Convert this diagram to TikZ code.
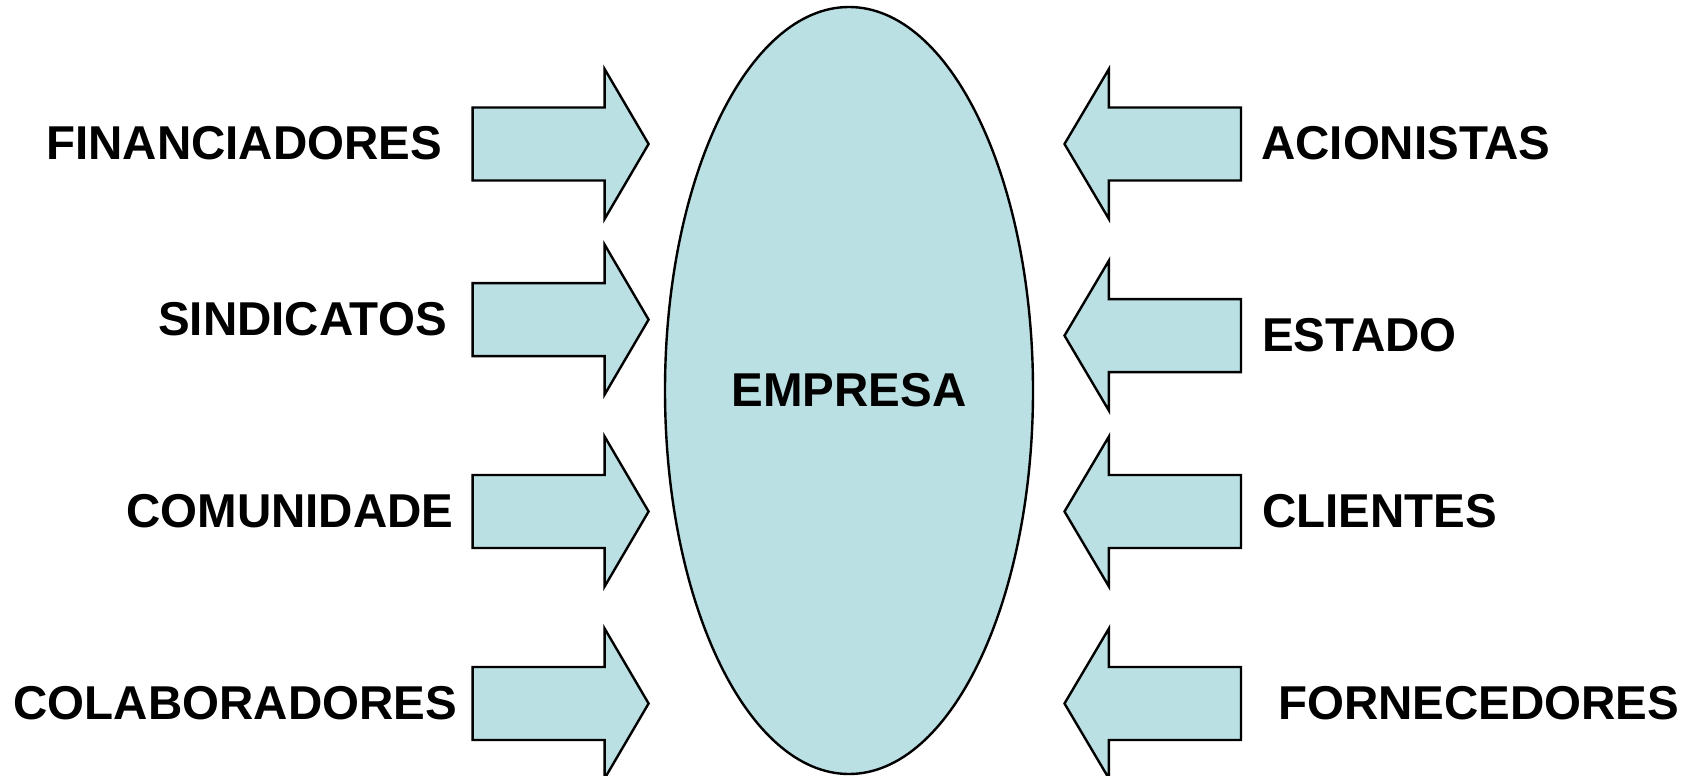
\documentclass[tikz,border=0pt]{standalone}
\usepackage{fontspec}
\setmainfont{Liberation Sans}
\usetikzlibrary{shapes.geometric}
\definecolor{fillblue}{HTML}{BAE0E3}
\tikzset{
  shapefill/.style={draw=black, line width=2.4pt, fill=fillblue, line join=miter},
  lbl/.style={inner sep=0pt, font=\fontsize{47.5}{55}\selectfont\bfseries},
  inarrowR/.pic={\draw[shapefill] (0,0) -- (-44,-75) -- (-44,-36.5) -- (-176,-36.5) -- (-176,36.5) -- (-44,36.5) -- (-44,75) -- cycle;},
  inarrowL/.pic={\draw[shapefill] (0,0) -- (44.4,-75) -- (44.4,-36.5) -- (176.5,-36.5) -- (176.5,36.5) -- (44.4,36.5) -- (44.4,75) -- cycle;}
}
\begin{document}
\begin{tikzpicture}[x=1pt,y=-1pt]
\useasboundingbox (0,0) rectangle (1698,776);
% central ellipse
\node[ellipse, shapefill, inner sep=0pt, minimum width=368pt, minimum height=767pt, lbl] (emp) at (849,390.5) {EMPRESA};
% left arrows
\pic (a1) at (648.6,144) {inarrowR};
\pic (a2) at (648.6,319.6) {inarrowR};
\pic (a3) at (648.6,511.5) {inarrowR};
\pic (a4) at (648.6,703.5) {inarrowR};
% right arrows
\pic (b1) at (1064.5,144) {inarrowL};
\pic (b2) at (1064.5,335.6) {inarrowL};
\pic (b3) at (1064.5,511.5) {inarrowL};
\pic (b4) at (1064.5,703.5) {inarrowL};
% left labels
\node[lbl, anchor=west] (fin) at (46,143.5) {FINANCIADORES};
\node[lbl, anchor=west] (sin) at (158,319.6) {SINDICATOS};
\node[lbl, anchor=west] (com) at (126,511.5) {COMUNIDADE};
\node[lbl, anchor=west] (col) at (13.5,703.5) {COLABORADORES};
% right labels
\node[lbl, anchor=west] (aci) at (1261,143.5) {ACIONISTAS};
\node[lbl, anchor=west] (est) at (1262,335.6) {ESTADO};
\node[lbl, anchor=west] (cli) at (1262,511.5) {CLIENTES};
\node[lbl, anchor=west] (for) at (1278,703.5) {FORNECEDORES};
\end{tikzpicture}
\end{document}
